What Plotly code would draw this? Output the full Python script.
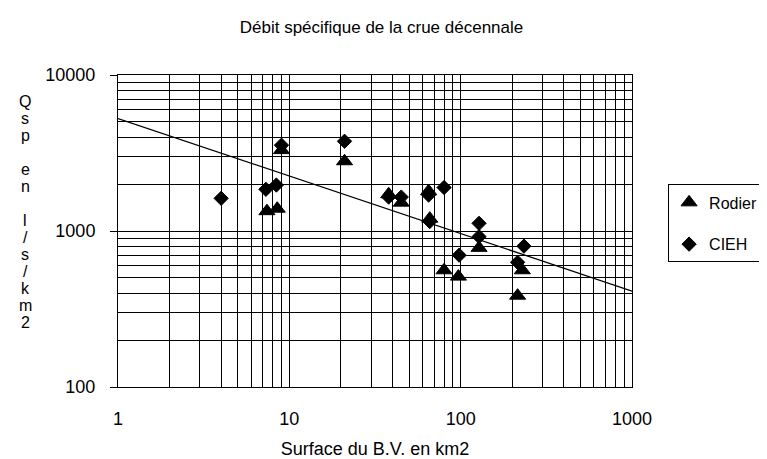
import plotly.graph_objects as go

# Data
rodier_x = [7.4, 8.5, 9.0, 21, 38, 45, 65, 66, 80, 97, 128, 229, 215]
rodier_y = [1340, 1390, 3300, 2800, 1720, 1520, 1800, 1200, 560, 510, 780, 560, 385]

cieh_x = [4, 7.3, 8.4, 9.0, 21, 38, 45, 65, 66, 80, 98, 128, 128, 234, 215]
cieh_y = [1620, 1850, 1970, 3550, 3760, 1650, 1650, 1700, 1150, 1900, 700, 1120, 920, 800, 630]

trend_x = [1, 1000]
trend_y = [5260, 412]

x_major = [1, 10, 100, 1000]
x_labels = ["1", "10", "100", "1000"]
y_major = [100, 1000, 10000]
y_labels = ["100", "1000", "10000"]

x_minor = [m * d for d in (1, 10, 100) for m in range(2, 10)]
y_minor = [m * d for d in (100, 1000) for m in range(2, 10)]

title_text = "Débit spécifique de la crue décennale"
x_title = "Surface du B.V. en km2"
y_title_letters = ["Q", "s", "p", "", "e", "n", "", "l", "/", "s", "/", "k", "m", "2"]

FONT = "Liberation Sans, Arial, sans-serif"
W, H = 767, 459
L, R, T, B = 110, 130, 67, 67
PW, PH = W - L - R, H - T - B

fig = go.Figure()
fig.add_trace(go.Scatter(
    x=trend_x, y=trend_y, mode="lines",
    line=dict(color="black", width=1.3), showlegend=False, hoverinfo="skip"))
fig.add_trace(go.Scatter(
    x=rodier_x, y=rodier_y, mode="markers", name="Rodier",
    marker=dict(symbol="triangle-up", size=14, color="black",
                line=dict(color="black", width=1)),
    legendgroup="a"))
fig.add_trace(go.Scatter(
    x=cieh_x, y=cieh_y, mode="markers", name="CIEH",
    marker=dict(symbol="diamond", size=11, color="black",
                line=dict(color="black", width=1)),
    legendgroup="b"))

fig.update_layout(
    width=W, height=H,
    margin=dict(l=L, r=R, t=T, b=B),
    paper_bgcolor="white", plot_bgcolor="white",
    font=dict(family=FONT, color="black"),
    title=dict(text=title_text, x=(L + L + PW) / 2 / W, xanchor="center",
               y=1 - 19 / H, yanchor="middle", font=dict(size=17, family=FONT)),
    legend=dict(x=(674 - L) / PW, xanchor="left", y=(H - B - 181) / PH, yanchor="top",
                bordercolor="black", borderwidth=1, bgcolor="white",
                font=dict(size=16, family=FONT), tracegroupgap=18,
                traceorder="grouped"),
    xaxis=dict(
        type="log", range=[0, 3],
        tickmode="array", tickvals=x_major, ticktext=x_labels,
        ticks="", tickfont=dict(size=18), ticklabelstandoff=15,
        showgrid=True, gridcolor="black", gridwidth=1,
        minor=dict(tickmode="array", tickvals=x_minor, showgrid=True,
                   gridcolor="black", gridwidth=1, ticks=""),
        showline=True, linecolor="black", linewidth=1, mirror=True,
        zeroline=False,
        title=dict(text=x_title, font=dict(size=18), standoff=14),
    ),
    yaxis=dict(
        type="log", range=[2, 4],
        tickmode="array", tickvals=y_major, ticktext=y_labels,
        ticks="outside", ticklen=7, tickcolor="black", tickfont=dict(size=18),
        ticklabelstandoff=11,
        showgrid=True, gridcolor="black", gridwidth=1,
        minor=dict(tickmode="array", tickvals=y_minor, showgrid=True,
                   gridcolor="black", gridwidth=1, ticks=""),
        showline=True, linecolor="black", linewidth=1, mirror=True,
        zeroline=False,
    ),
)

# vertical stacked axis title, one letter per line
for i, ch in enumerate(y_title_letters):
    if not ch:
        continue
    ypx = 95 + i * 17.7
    fig.add_annotation(
        text=ch, xref="paper", yref="paper",
        x=(15 - L) / PW, y=(H - B - ypx) / PH, xanchor="center", yanchor="middle",
        showarrow=False, font=dict(size=16, family=FONT))

fig.write_html("out.html")
